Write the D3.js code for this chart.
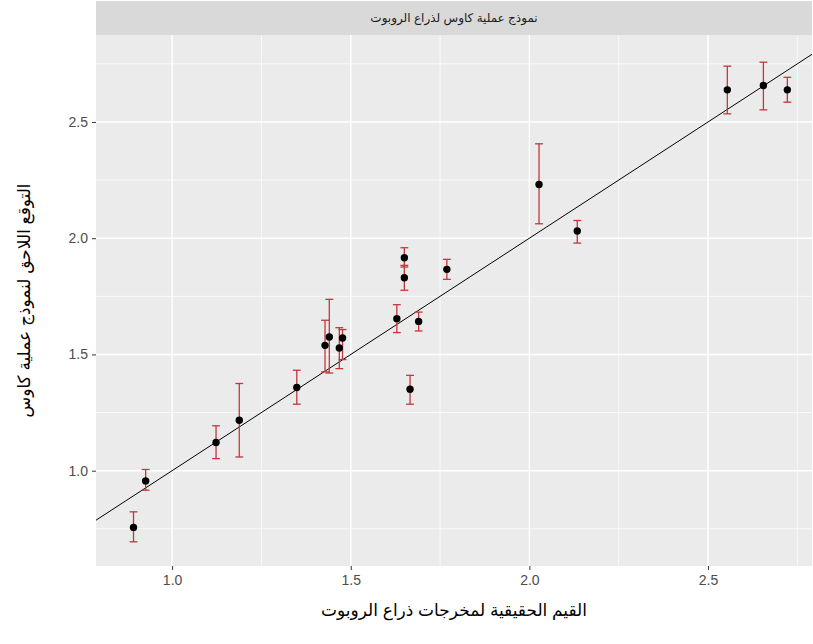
<!DOCTYPE html>
<html><head><meta charset="utf-8">
<script src="https://cdn.jsdelivr.net/npm/d3@7/dist/d3.min.js"></script>
<style>body{margin:0;background:#fff}</style>
</head><body>
<svg id="c" width="813" height="644"></svg>
<script>
// ---- data ----
const actual   = [0.892,0.926,1.123,1.188,1.349,1.428,1.440,1.468,1.477,1.629,1.650,1.650,1.666,1.690,1.769,2.027,2.134,2.554,2.655,2.722];
const predMean = [0.756,0.956,1.121,1.217,1.358,1.539,1.575,1.528,1.571,1.654,1.916,1.830,1.350,1.642,1.866,2.231,2.031,2.638,2.657,2.638];
const predLow  = [0.694,0.916,1.052,1.059,1.286,1.425,1.420,1.439,1.478,1.594,1.876,1.776,1.286,1.601,1.823,2.062,1.979,2.535,2.552,2.585];
const predHigh = [0.823,1.005,1.193,1.375,1.432,1.647,1.737,1.615,1.607,1.714,1.959,1.883,1.410,1.682,1.909,2.406,2.076,2.740,2.757,2.692];
const xTicks = [1.0,1.5,2.0,2.5];
const yTicks = [1.0,1.5,2.0,2.5];
const xMinor = [1.25,1.75,2.25,2.75];
const yMinor = [0.75,1.25,1.75,2.25,2.75];
const stripTitle = "نموذج عملية كاوس لذراع الروبوت";
const xTitle = "القيم الحقيقية لمخرجات ذراع الروبوت";
const yTitle = "التوقع اللاحق لنموذج عملية كاوس";

const data = actual.map((x,i)=>({x, y:predMean[i], lo:predLow[i], hi:predHigh[i]}));

const P = {l:96, r:812, t:35, b:566};
const stripTop = 1;
const svg = d3.select("#c");
const x = d3.scaleLinear().domain([0.787, 2.791]).range([P.l, P.r]);
const y = d3.scaleLinear().domain([0.590, 2.874]).range([P.b, P.t]);
const fontLat = "'Liberation Sans', Arial, 'DejaVu Sans', sans-serif";

// strip
svg.append("rect").attr("x",P.l).attr("y",stripTop).attr("width",P.r-P.l).attr("height",P.t-stripTop).attr("fill","#d9d9d9");
svg.append("text").attr("x",(P.l+P.r)/2).attr("y",(stripTop+P.t)/2).attr("dy","0.35em")
  .attr("text-anchor","middle").attr("font-family",fontLat).attr("font-size",12).attr("fill","#1a1a1a").text(stripTitle);

// panel
svg.append("rect").attr("x",P.l).attr("y",P.t).attr("width",P.r-P.l).attr("height",P.b-P.t).attr("fill","#ebebeb");
const grid = svg.append("g");
grid.selectAll(".vm").data(xMinor).join("line").attr("x1",d=>x(d)).attr("x2",d=>x(d)).attr("y1",P.t).attr("y2",P.b).attr("stroke","#fff").attr("stroke-width",0.7);
grid.selectAll(".hm").data(yMinor).join("line").attr("y1",d=>y(d)).attr("y2",d=>y(d)).attr("x1",P.l).attr("x2",P.r).attr("stroke","#fff").attr("stroke-width",0.7);
grid.selectAll(".vM").data(xTicks).join("line").attr("x1",d=>x(d)).attr("x2",d=>x(d)).attr("y1",P.t).attr("y2",P.b).attr("stroke","#fff").attr("stroke-width",1.4);
grid.selectAll(".hM").data(yTicks).join("line").attr("y1",d=>y(d)).attr("y2",d=>y(d)).attr("x1",P.l).attr("x2",P.r).attr("stroke","#fff").attr("stroke-width",1.4);

// axes
const xAxis = d3.axisBottom(x).tickValues(xTicks).tickFormat(d3.format(".1f")).tickSize(4).tickPadding(5);
const yAxis = d3.axisLeft(y).tickValues(yTicks).tickFormat(d3.format(".1f")).tickSize(4).tickPadding(4);
const gx = svg.append("g").attr("transform",`translate(0,${P.b})`).call(xAxis);
const gy = svg.append("g").attr("transform",`translate(${P.l},0)`).call(yAxis);
[gx,gy].forEach(g=>{
  g.select(".domain").remove();
  g.selectAll(".tick line").attr("stroke","#333").attr("stroke-width",1);
  g.selectAll(".tick text").attr("fill","#4d4d4d").attr("font-size",14).attr("font-family",fontLat);
});

// clip
svg.append("clipPath").attr("id","clip").append("rect").attr("x",P.l).attr("y",P.t).attr("width",P.r-P.l).attr("height",P.b-P.t);
const plot = svg.append("g").attr("clip-path","url(#clip)");

// identity line y = x
const xd = x.domain();
plot.append("line").attr("x1",x(xd[0])).attr("y1",y(xd[0])).attr("x2",x(xd[1])).attr("y2",y(xd[1]))
  .attr("stroke","#000").attr("stroke-width",1);

// error bars
const cap = 0.011;
const eb = plot.append("g").attr("stroke","#c4363c").attr("stroke-width",1.3).attr("fill","none");
eb.selectAll(".v").data(data).join("line").attr("x1",d=>x(d.x)).attr("x2",d=>x(d.x)).attr("y1",d=>y(d.lo)).attr("y2",d=>y(d.hi));
eb.selectAll(".t").data(data).join("line").attr("x1",d=>x(d.x-cap)).attr("x2",d=>x(d.x+cap)).attr("y1",d=>y(d.hi)).attr("y2",d=>y(d.hi));
eb.selectAll(".b").data(data).join("line").attr("x1",d=>x(d.x-cap)).attr("x2",d=>x(d.x+cap)).attr("y1",d=>y(d.lo)).attr("y2",d=>y(d.lo));

// points
plot.selectAll("circle").data(data).join("circle").attr("cx",d=>x(d.x)).attr("cy",d=>y(d.y)).attr("r",3.7).attr("fill","#000");

// titles
svg.append("text").attr("x",(P.l+P.r)/2).attr("y",616).attr("text-anchor","middle")
  .attr("font-family",fontLat).attr("font-size",17).attr("fill","#000").text(xTitle);
svg.append("text").attr("transform",`translate(30,${(P.t+P.b)/2}) rotate(-90)`).attr("text-anchor","middle")
  .attr("font-family",fontLat).attr("font-size",17).attr("fill","#000").text(yTitle);
</script>
</body></html>
